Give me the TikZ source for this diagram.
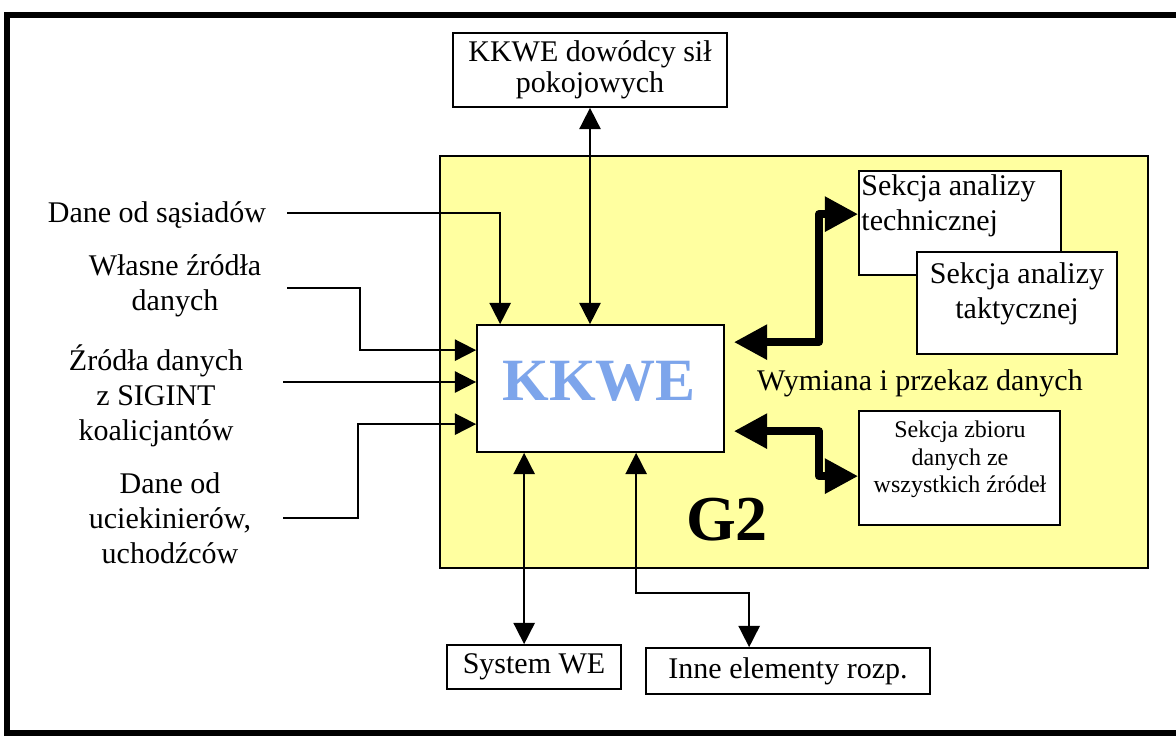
\documentclass[tikz,border=0pt]{standalone}
\usepackage{fontspec}
\setmainfont{Liberation Serif}
\usetikzlibrary{arrows.meta,calc}
\definecolor{g2yellow}{RGB}{255,255,160}
\definecolor{kkweblue}{RGB}{125,165,235}
\begin{document}
\begin{tikzpicture}[x=0.75pt,y=-0.75pt,
  >={Triangle[length=16pt,width=16pt]},
  sz/.style 2 args={minimum width=#1*0.75pt,minimum height=#2*0.75pt},
  box/.style={draw,line width=1.3pt,fill=white,inner sep=0pt},
  lbl/.style={align=center,font=\fontsize{22.5}{26.5}\selectfont,inner sep=0pt},
  small/.style={align=center,font=\fontsize{18}{20.6}\selectfont,inner sep=0pt},
  conn/.style={line width=1.3pt},
  fat/.style={line width=6pt,line join=round,
    {Triangle[length=25pt,width=25pt]}-{Triangle[length=25pt,width=25pt]}}]
\useasboundingbox (0,0) rectangle (1176,736);
% outer frame
\draw[line width=4.5pt] (1176,15) -- (7,15) -- (7,733) -- (1176,733);
% G2 area
\node[draw,line width=1.3pt,fill=g2yellow,sz={708}{412}] (g2) at (794,362) {};
\node[font=\fontsize{48}{50}\selectfont\bfseries,inner sep=0pt] (g2t) at (727,520) {G2};
% boxes
\node[box,lbl,sz={274}{74},font=\fontsize{22.5}{23}\selectfont] (top) at (590,70) {KKWE dowódcy sił\\pokojowych};
\node[box,sz={247}{127}] (kkwe) at (600.5,388.5) {};
\node[font=\fontsize{45}{50}\selectfont\bfseries,text=kkweblue,inner sep=0pt] (kkwet) at (599,381) {KKWE};
\node[box,sz={202}{104}] (tech) at (960,223) {};
\node[lbl,anchor=north west,align=left] (techt) at ($(tech.north west)+(3,4)$) {Sekcja analizy\\technicznej};
\node[box,sz={200}{102}] (takt) at (1017,303) {};
\node[lbl,anchor=north] (taktt) at (1017,262) {Sekcja analizy\\taktycznej};
\node[box,sz={201}{114}] (zbior) at (959.5,468) {};
\node[small,anchor=north] (zbiort) at (960,421) {Sekcja zbioru\\danych ze\\wszystkich źródeł};
\node[box,lbl,sz={174}{44}] (sys) at (534,667) {System WE};
\node[box,lbl,sz={284}{46}] (inne) at (788,671) {Inne elementy rozp.};
\node[lbl] (wym) at (920,383) {Wymiana i przekaz danych};
% left labels
\node[lbl] (lab1) at (157,215) {Dane od sąsiadów};
\node[lbl,anchor=north] (lab2) at (175,254) {Własne źródła\\danych};
\node[lbl,anchor=north] (lab3) at (156,344) {Źródła danych\\z SIGINT\\koalicjantów};
\node[lbl,anchor=north] (lab4) at (170,472) {Dane od\\uciekinierów,\\uchodźców};
% free ends
\coordinate (s1) at (287,213);
\coordinate (s2) at (287,288);
\coordinate (s3) at (283,382);
\coordinate (s4) at (283,518);
% thin connectors
\draw[conn,->] (s1) -| ($(kkwe.north west)+(24,0)$);
\draw[conn,->] (s2) -- ++(73,0) |- ($(kkwe.north west)+(0,26)$);
\draw[conn,->] (s3) -- (s3 -| kkwe.west);
\draw[conn,->] (s4) -- ++(75,0) |- ($(kkwe.north west)+(0,100)$);
\draw[conn,<->] (top.south) -- (top.south |- kkwe.north);
\coordinate (k1) at ($(kkwe.south west)+(48,0)$);
\draw[conn,<->] (k1) -- (k1 |- sys.north);
\coordinate (k2) at ($(kkwe.south west)+(160,0)$);
\draw[conn,<->] (k2) -- ++(0,140) -| ($(inne.north west)+(104,0)$);
% thick connectors
\draw[fat] ($(kkwe.north east)+(9,18)$) -- ++(85,0) |- ($(tech.north west)+(0,44)$);
\draw[fat] ($(kkwe.north east)+(9,107)$) -- ++(85,0) |- ($(zbior.north west)+(0,66)$);
\end{tikzpicture}
\end{document}
